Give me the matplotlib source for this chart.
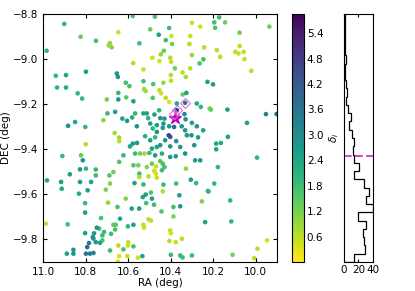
import numpy as np
import matplotlib
matplotlib.use('Agg')
import matplotlib.pyplot as plt

# --- scatter sources: RA, DEC and delta_i ---
ra = [10.900, 10.823, 10.751, 10.983, 10.940, 10.892, 10.934, 10.892, 10.798, 10.837,
      10.816, 10.882, 10.849, 10.801, 10.799, 10.700, 10.716, 10.697, 10.685, 10.677,
      10.691, 10.646, 10.578, 10.653, 10.648, 10.611, 10.594, 10.646, 10.646, 10.609,
      10.575, 10.661, 10.627, 10.605, 10.581, 10.559, 10.663, 10.642, 10.642, 10.578,
      10.558, 10.576, 10.528, 10.547, 10.496, 10.474, 10.456, 10.423, 10.407, 10.396,
      10.393, 10.486, 10.453, 10.446, 10.432, 10.402, 10.398, 10.380, 10.399, 10.398,
      10.434, 10.482, 10.528, 10.525, 10.517, 10.453, 10.445, 10.423, 10.407, 10.484,
      10.528, 10.476, 10.454, 10.496, 10.465, 10.434, 10.429, 10.465, 10.484, 10.371,
      10.343, 10.329, 10.344, 10.300, 10.261, 10.308, 10.312, 10.300, 10.308, 10.264,
      10.242, 10.246, 10.227, 10.326, 10.277, 10.258, 10.217, 10.335, 10.330, 10.300,
      10.277, 10.348, 10.332, 10.324, 10.302, 10.402, 10.384, 10.371, 10.332,
      10.909, 10.821, 10.813, 10.981, 10.915, 10.874, 10.826, 10.798, 10.752, 10.752,
      10.826, 10.774, 10.912, 10.831, 10.790, 10.802, 10.802, 10.884, 10.987, 10.705,
      10.727, 10.694, 10.669, 10.688, 10.685, 10.642, 10.622, 10.591, 10.567, 10.544,
      10.523, 10.500, 10.473, 10.441, 10.465, 10.376, 10.355, 10.332, 10.285, 10.575,
      10.552, 10.547, 10.512, 10.488, 10.468, 10.477, 10.470, 10.449, 10.437, 10.429,
      10.441, 10.547, 10.504, 10.465, 10.570, 10.528, 10.434, 10.374, 10.328, 10.305,
      10.280, 10.261, 10.225, 10.437, 10.493, 10.517, 10.531, 10.488, 10.515, 10.478,
      10.583, 10.548, 10.650, 10.611, 10.638, 10.669, 10.658, 10.661, 10.680, 10.713,
      10.721, 10.736, 10.443, 10.387, 10.359, 10.355, 10.387, 10.504, 10.493, 10.528,
      10.525, 10.575, 10.601, 10.646, 10.599, 10.601, 10.575, 10.603, 10.642, 10.554,
      10.533, 10.622, 10.685, 10.721, 10.732, 10.752, 10.763, 10.779, 10.798, 10.792,
      10.784, 10.766, 10.760, 10.747, 10.802, 10.857, 10.857, 10.888, 10.763, 10.399,
      10.355, 10.344, 10.300, 10.406, 10.399, 10.402, 10.376, 10.347, 10.253, 10.238,
      10.648, 10.109, 10.007,
      10.172, 10.195, 10.144, 10.191, 10.076, 9.936, 10.183, 10.167, 10.076, 10.096,
      10.081, 10.057, 10.053, 10.021, 10.201, 10.211, 10.133, 9.952, 9.902, 10.041,
      10.131, 10.186, 10.164, 10.186, 9.994, 10.178, 10.195, 10.222, 10.120, 10.115,
      9.947, 9.992,
      10.567, 10.512, 10.437, 10.407, 10.426, 10.449, 10.402, 10.374, 10.496, 10.520,
      10.473, 10.289, 10.271, 10.247, 10.449, 10.506, 10.488, 10.402, 10.409]

dec = [-8.844, -8.901, -8.919, -8.963, -9.074, -9.071, -9.126, -9.126, -9.056, -9.152,
       -9.175, -9.296, -9.279, -9.301, -9.378, -9.179, -9.271, -9.241, -8.929, -8.948,
       -8.939, -8.881, -8.809, -9.064, -9.079, -9.105, -9.120, -9.150, -9.179, -9.170,
       -9.187, -9.234, -9.264, -9.274, -9.259, -9.298, -9.328, -9.348, -9.364, -9.375,
       -9.372, -9.018, -9.046, -8.930, -8.868, -8.812, -8.892, -8.916, -8.862, -8.898,
       -8.933, -8.994, -9.009, -8.979, -8.963, -8.994, -9.012, -9.041, -9.071, -9.096,
       -9.105, -9.111, -9.098, -9.133, -9.142, -9.138, -9.152, -9.172, -9.190, -9.172,
       -9.241, -9.246, -9.227, -9.286, -9.293, -9.286, -9.264, -9.323, -9.308, -9.197,
       -9.157, -9.079, -9.059, -8.839, -8.856, -8.898, -8.933, -8.982, -9.041, -9.019,
       -8.948, -9.001, -9.101, -9.150, -9.197, -9.212, -9.219, -9.244, -9.267, -9.283,
       -9.298, -9.298, -9.316, -9.338, -9.338, -9.345, -9.301, -9.227, -9.194,
       -9.430, -9.427, -9.449, -9.538, -9.545, -9.511, -9.489, -9.486, -9.490, -9.516,
       -9.545, -9.545, -9.575, -9.597, -9.582, -9.639, -9.681, -9.733, -9.730, -9.579,
       -9.705, -9.637, -9.501, -9.516, -9.552, -9.456, -9.427, -9.387, -9.419, -9.419,
       -9.419, -9.416, -9.427, -9.419, -9.390, -9.431, -9.390, -9.419, -9.449, -9.471,
       -9.471, -9.508, -9.479, -9.464, -9.476, -9.496, -9.508, -9.453, -9.464, -9.479,
       -9.493, -9.523, -9.520, -9.526, -9.550, -9.556, -9.557, -9.552, -9.486, -9.535,
       -9.550, -9.449, -9.585, -9.587, -9.592, -9.601, -9.612, -9.619, -9.639, -9.646,
       -9.663, -9.663, -9.656, -9.619, -9.708, -9.735, -9.735, -9.756, -9.775, -9.767,
       -9.782, -9.752, -9.676, -9.656, -9.604, -9.653, -9.698, -9.711, -9.716, -9.735,
       -9.748, -9.735, -9.742, -9.827, -9.812, -9.827, -9.831, -9.874, -9.874, -9.881,
       -9.874, -9.844, -9.849, -9.804, -9.815, -9.812, -9.796, -9.863, -9.863, -9.834,
       -9.816, -9.790, -9.773, -9.748, -9.772, -9.846, -9.863, -9.863, -9.860, -9.868,
       -9.871, -9.880, -9.871, -9.807, -9.772, -9.760, -9.812, -9.797, -9.631, -9.723,
       -9.898, -9.868, -9.883,
       -8.815, -8.837, -8.837, -8.861, -8.883, -8.856, -8.960, -8.990, -8.942, -8.968,
       -8.975, -8.968, -9.000, -9.052, -9.112, -9.224, -9.224, -9.244, -9.244, -9.283,
       -9.345, -9.375, -9.372, -9.400, -9.437, -9.479, -9.552, -9.587, -9.627, -9.720,
       -9.804, -9.841,
       -9.241, -9.241, -9.305, -9.298, -9.360, -9.382, -9.387, -9.364, -9.360, -9.342,
       -9.347, -9.382, -9.347, -9.316, -9.262, -9.262, -9.397, -9.434, -9.338]

delta = [2.0, 1.4, 1.8, 2.0, 2.0, 2.4, 2.0, 2.2, 2.6, 2.0,
         1.9, 2.8, 2.4, 2.0, 0.6, 1.2, 1.0, 2.0, 1.0, 1.1,
         0.9, 0.5, 1.6, 2.8, 2.8, 1.8, 1.7, 2.0, 2.8, 1.5,
         2.5, 2.6, 2.6, 2.8, 2.3, 2.8, 0.8, 0.8, 0.6, 2.7,
         2.7, 0.7, 0.5, 1.8, 1.4, 1.7, 2.6, 1.8, 1.8, 0.4,
         1.3, 0.5, 0.4, 1.0, 1.4, 0.6, 0.5, 1.3, 0.6, 0.6,
         0.9, 1.6, 1.8, 0.8, 0.8, 0.6, 0.5, 0.6, 0.3, 1.6,
         2.4, 2.6, 2.0, 2.6, 2.7, 2.8, 2.7, 2.8, 2.0, 2.4,
         1.4, 0.8, 0.6, 0.5, 0.4, 0.5, 0.7, 0.9, 0.6, 1.7,
         0.6, 1.8, 2.6, 2.6, 2.3, 2.0, 1.0, 3.2, 3.0, 2.6,
         2.8, 2.8, 2.8, 2.8, 2.8, 4.5, 4.0, 5.0, 3.5,
         1.9, 1.4, 2.8, 2.3, 2.6, 2.6, 2.7, 2.0, 1.9, 1.9,
         2.7, 2.6, 2.3, 2.2, 2.6, 1.9, 2.6, 1.8, 0.5, 1.1,
         1.7, 0.9, 1.3, 1.6, 1.1, 1.6, 1.9, 2.5, 1.9, 1.3,
         0.8, 1.9, 2.6, 2.3, 2.5, 2.7, 2.7, 2.9, 2.6, 1.6,
         1.2, 1.8, 1.1, 1.4, 0.5, 0.5, 0.4, 1.5, 1.7, 1.8,
         1.8, 0.7, 0.6, 0.5, 2.6, 2.0, 1.9, 1.8, 1.0, 2.5,
         2.0, 2.7, 2.0, 0.7, 1.6, 2.6, 2.6, 2.6, 1.8, 1.8,
         2.5, 2.6, 1.7, 1.1, 2.4, 1.4, 1.5, 1.7, 1.8, 1.9,
         1.9, 1.8, 1.6, 1.8, 2.6, 2.8, 1.1, 0.6, 0.6, 0.6,
         0.5, 2.5, 2.0, 0.6, 0.5, 0.5, 1.7, 0.5, 0.3, 0.5,
         2.4, 1.7, 1.8, 1.7, 2.5, 2.7, 2.8, 3.4, 3.7, 3.8,
         3.5, 3.0, 2.8, 2.8, 2.5, 2.8, 2.8, 2.6, 3.3, 1.9,
         1.9, 1.9, 1.9, 0.6, 0.4, 0.5, 0.5, 0.6, 1.1, 2.6,
         0.3, 1.2, 0.6,
         1.8, 1.8, 1.3, 1.6, 1.3, 1.3, 0.6, 0.6, 0.6, 0.6,
         0.5, 0.6, 0.5, 0.6, 2.6, 1.4, 2.6, 3.3, 3.8, 2.4,
         2.5, 2.4, 2.4, 2.4, 2.0, 2.0, 2.0, 2.0, 2.0, 2.0,
         0.4, 0.6,
         2.0, 2.5, 2.7, 2.7, 2.8, 2.7, 2.8, 2.9, 2.6, 2.2,
         2.0, 2.8, 2.6, 2.5, 2.8, 2.1, 2.6, 2.7, 4.6]

# target (star) and companions (diamonds)
star_ra, star_dec = [10.381], [-9.263]
diam_ra = [10.332, 10.369, 10.384]
diam_dec = [-9.196, -9.227, -9.242]

# histogram of delta_i (counts per bin, bottom to top)
hist_counts = [14, 29, 28, 26, 30, 20, 40, 31, 34, 28, 14, 21, 14, 12, 14,
               11, 7, 9, 5, 3, 4, 3, 1, 2, 3, 2, 1, 2, 1, 2]
delta_min, delta_max = 0.0, 5.85
delta_cut = 2.5

plt.rcParams['font.size'] = 7.5
fig = plt.figure(figsize=(4.15, 2.91), dpi=100)

ax = fig.add_axes([0.1036, 0.0997, 0.5639, 0.8522])
sc = ax.scatter(ra, dec, c=delta, cmap='viridis_r', vmin=delta_min, vmax=delta_max,
                s=11, linewidths=0)
ax.plot(star_ra, star_dec, '*', color='m', ms=9, mec='m')
ax.plot(diam_ra, diam_dec, 'D', mfc='none', mec='orchid', ms=5, mew=0.8)
ax.set_xlim(11.0, 9.9)
ax.set_ylim(-9.9, -8.8)
ax.set_xticks([11.0, 10.8, 10.6, 10.4, 10.2, 10.0])
ax.set_yticks([-8.8, -9.0, -9.2, -9.4, -9.6, -9.8])
ax.tick_params(direction='in', top=True, right=True, length=3)
ax.set_xlabel('RA (deg)', labelpad=1)
ax.set_ylabel('DEC (deg)', labelpad=1)

cax = fig.add_axes([0.7036, 0.0997, 0.0289, 0.8522])
cb = fig.colorbar(sc, cax=cax)
cb.set_ticks([0.6, 1.2, 1.8, 2.4, 3.0, 3.6, 4.2, 4.8, 5.4])
cb.ax.tick_params(length=0, pad=2)
cb.outline.set_linewidth(0.8)

hax = fig.add_axes([0.8289, 0.0997, 0.0699, 0.8522])
edges = np.linspace(delta_min, delta_max, len(hist_counts) + 1)
hax.stairs(hist_counts, edges, orientation='horizontal', color='k', lw=0.9)
hax.axhline(delta_cut, color='m', ls='--', lw=1.5, alpha=0.7)
hax.set_xlim(0, 40)
hax.set_ylim(delta_min, delta_max)
hax.set_xticks([0, 20, 40])
hax.set_yticks([])
hax.tick_params(direction='in', top=True, length=2, pad=2)
hax.set_ylabel(r'$\delta_i$', labelpad=2)

fig.savefig('out.png', dpi=100)
